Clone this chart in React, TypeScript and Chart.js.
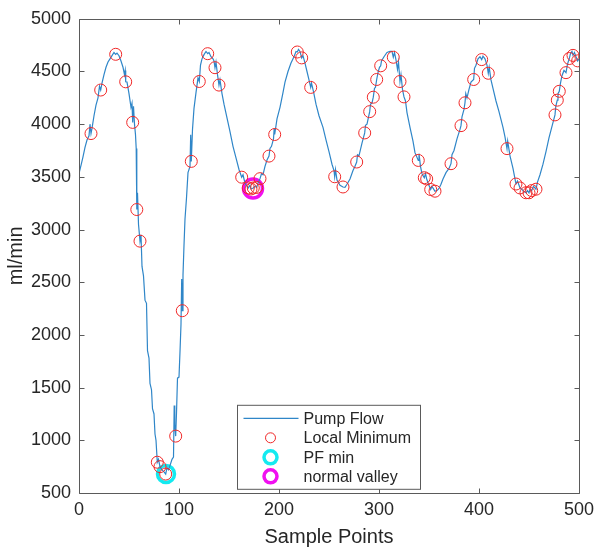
import React, { useEffect, useRef } from "react";
import { Chart, registerables } from "chart.js";

Chart.register(...registerables);

// Pump flow trace (sample index, ml/min)
const flowX = [
  0, 2, 4, 6, 8, 10, 11, 12, 13, 15, 17, 19, 20.5, 21.7, 23, 25, 27, 29, 31, 33, 35, 36.7, 38, 40, 42, 44,
  45.5, 46.2, 46.7, 48, 50, 52, 53, 53.7, 54.5, 55.5, 56.5, 57.2, 57.8, 58.5, 59.5, 61, 62, 63, 64.5, 66,
  67.5, 68.5, 70, 71, 72.5, 73.5, 75, 76, 77, 78.3, 79.5, 81, 83, 85, 86.7, 88, 89.5, 91, 93, 94.5, 95.2,
  95.8, 96.7, 97.5, 98.5, 100, 101, 102, 102.7, 103.3, 104, 105, 106, 107.5, 109, 111, 111.7, 112.3, 113.5,
  115, 117, 119, 120.3, 121.5, 123, 125, 127, 128.7, 130, 132, 134, 135, 136, 137, 138.5, 140, 141, 143,
  145, 148, 151, 154, 157, 160, 162.7, 164, 166, 168, 169.3, 171, 172, 174.3, 176, 177.7, 179, 181, 182.5,
  184, 186, 188, 190, 191, 192.5, 194.5, 195.2, 195.7, 198, 201, 204, 206, 209, 212, 215, 217, 218.3, 219.5,
  221, 222.7, 224, 226, 228, 230, 231.7, 232.5, 234.5, 237, 240, 244, 247, 250, 253, 255, 255.7, 256.5, 258,
  261, 264, 266, 268, 271, 274, 276, 277.7, 278.5, 280, 283, 285.7, 286.5, 288, 290.7, 291.5, 293, 294.3,
  295.5, 296.5, 297.7, 299, 300.5, 301.7, 302.5, 305, 308, 311, 313, 314.3, 315.5, 317, 318.5, 319.5, 321,
  322, 323.5, 325, 326.5, 328, 331, 334, 336, 339.3, 340, 341.5, 343, 345.3, 346.5, 347.7, 349.5, 351.7, 353,
  356, 358, 360, 362, 364, 367, 370, 372, 373, 375, 378, 381, 382, 383, 385, 386, 386.8, 388, 390, 392, 394.7,
  395.5, 397, 399, 401, 402.7, 404, 406, 408, 409.3, 410.2, 412, 414, 417, 420, 424, 426, 428, 428.7, 431,
  434, 436, 437, 438.5, 441, 443, 445, 447, 448.5, 450, 451, 452.7, 454.5, 457, 458.5, 461, 464, 467, 470,
  473, 476, 476.8, 478.3, 479, 480.3, 481.5, 483, 485, 487, 488.5, 490.3, 491.5, 493, 494, 495.5, 497, 498.7,
  500,
];
const flowY = [
  3530, 3610, 3690, 3780, 3850, 3890, 4000, 3911, 3960, 4080, 4180, 4250, 4360, 4324, 4390, 4470, 4540, 4590,
  4620, 4650, 4680, 4663, 4675, 4650, 4600, 4540, 4470, 4510, 4402, 4400, 4290, 4160, 4200, 4017, 4170, 4000,
  3900, 3770, 3190, 3350, 3050, 2890, 2950, 2650, 2560, 2330, 2300, 1850, 1780, 1540, 1480, 1300, 1250, 1060,
  1000, 792, 820, 750, 720, 700, 680, 740, 720, 760, 820, 840, 1330, 1150, 1040, 1260, 1590, 1600, 1840, 2100,
  2530, 2230, 2570, 2850, 3100, 3300, 3540, 3600, 3900, 3647, 3950, 4150, 4300, 4440, 4405, 4560, 4620, 4660,
  4690, 4669, 4680, 4640, 4620, 4600, 4536, 4590, 4470, 4371, 4420, 4290, 4190, 4060, 3930, 3790, 3680, 3570,
  3497, 3520, 3440, 3410, 3395, 3420, 3385, 3395, 3410, 3400, 3440, 3483, 3530, 3520, 3600, 3660, 3697, 3770,
  3790, 3860, 3960, 3902, 4050, 4160, 4300, 4400, 4500, 4580, 4640, 4690, 4685, 4710, 4690, 4629, 4650, 4580,
  4500, 4420, 4349, 4390, 4310, 4190, 4080, 3970, 3850, 3740, 3620, 3560, 3501, 3570, 3470, 3420, 3404, 3400,
  3430, 3480, 3560, 3600, 3641, 3710, 3700, 3820, 3917, 3990, 4000, 4119, 4190, 4200, 4256, 4340, 4350, 4424,
  4490, 4540, 4554, 4600, 4640, 4680, 4690, 4690, 4635, 4680, 4610, 4520, 4590, 4405, 4470, 4330, 4259, 4220,
  4110, 3970, 3840, 3730, 3656, 3720, 3600, 3530, 3492, 3530, 3480, 3430, 3380, 3410, 3364, 3370, 3390, 3430,
  3480, 3540, 3580, 3625, 3710, 3750, 3860, 3950, 3986, 4070, 4140, 4203, 4290, 4250, 4330, 4400, 4424, 4530,
  4560, 4620, 4640, 4613, 4645, 4620, 4560, 4483, 4540, 4420, 4340, 4220, 4120, 3970, 3880, 3768, 3840, 3700,
  3580, 3480, 3432, 3460, 3395, 3380, 3360, 3349, 3370, 3349, 3380, 3370, 3410, 3383, 3450, 3520, 3620, 3740,
  3870, 3980, 4088, 4170, 4228, 4290, 4312, 4390, 4460, 4510, 4489, 4570, 4623, 4670, 4690, 4653, 4680, 4640,
  4601, 4620,
];

// Detected local minima
const minX = [
  12, 21.7, 36.7, 46.7, 53.7, 57.8, 61, 78.3, 81, 86.7, 96.7, 103.3, 112.3, 120.3, 128.7, 136, 140, 162.7,
  169.3, 172, 174.3, 177.7, 181, 190, 195.7, 218.3, 222.7, 231.7, 255.7, 264, 277.7, 285.7, 290.7, 294.3,
  297.7, 301.7, 314.3, 321, 325, 339.3, 345.3, 347.7, 351.7, 356, 372, 382, 386, 394.7, 402.7, 409.3, 428,
  437, 441, 447, 450, 452.7, 457, 476, 478.3, 480.3, 487, 490.3, 494, 498.7,
];
const minY = [
  3911, 4324, 4663, 4402, 4017, 3190, 2890, 792, 750, 680, 1040, 2230, 3647, 4405, 4669, 4536, 4371, 3497,
  3395, 3385, 3395, 3400, 3483, 3697, 3902, 4685, 4629, 4349, 3501, 3404, 3641, 3917, 4119, 4256, 4424, 4554,
  4635, 4405, 4259, 3656, 3492, 3480, 3380, 3364, 3625, 3986, 4203, 4424, 4613, 4483, 3768, 3432, 3395, 3349,
  3349, 3370, 3383, 4088, 4228, 4312, 4489, 4623, 4653, 4601,
];

// Global pump-flow minimum and the reference (normal) valley
const pfMinX = [87];
const pfMinY = [680];
const valleyX = [174];
const valleyY = [3390];

const xTicks = [0, 100, 200, 300, 400, 500];
const yTicks = [500, 1000, 1500, 2000, 2500, 3000, 3500, 4000, 4500, 5000];

const seriesNames = ["Pump Flow", "Local Minimum", "PF min", "normal valley"];
const xTitle = "Sample Points";
const yTitle = "ml/min";

const FONT = "'Liberation Sans', Arial, Helvetica, sans-serif";
const TEXT = "#262626";
const AXIS = "#5a5a5a";
const BLUE = "#2f86c8";
const RED = "#f02828";
const CYAN = "#14eaf0";
const MAGENTA = "#f010f0";

const zip = (xs: number[], ys: number[]) => xs.map((x, i) => ({ x, y: ys[i] }));

// Box around the plot with inward tick marks on all four sides
const framePlugin = {
  id: "frame",
  afterDatasetsDraw(chart: any) {
    const { ctx, chartArea: a, scales } = chart;
    const L = Math.round(a.left) + 0.5;
    const R = Math.round(a.right) + 0.5;
    const T = Math.round(a.top) + 0.5;
    const B = Math.round(a.bottom) + 0.5;
    const len = 5;
    ctx.save();
    ctx.strokeStyle = AXIS;
    ctx.lineWidth = 1;
    ctx.beginPath();
    ctx.rect(L, T, R - L, B - T);
    for (const v of xTicks) {
      const px = Math.round(scales.x.getPixelForValue(v)) + 0.5;
      ctx.moveTo(px, B);
      ctx.lineTo(px, B - len);
      ctx.moveTo(px, T);
      ctx.lineTo(px, T + len);
    }
    for (const v of yTicks) {
      const py = Math.round(scales.y.getPixelForValue(v)) + 0.5;
      ctx.moveTo(L, py);
      ctx.lineTo(L + len, py);
      ctx.moveTo(R, py);
      ctx.lineTo(R - len, py);
    }
    ctx.stroke();
    ctx.restore();
  },
};

// Boxed legend inside the lower part of the axes
const legendPlugin = {
  id: "boxLegend",
  afterDraw(chart: any) {
    const { ctx, chartArea: a } = chart;
    const x0 = a.left + 158.5;
    const y0 = a.top + 386.5;
    const w = 183;
    const h = 84;
    ctx.save();
    ctx.fillStyle = "#ffffff";
    ctx.fillRect(x0, y0, w, h);
    ctx.strokeStyle = AXIS;
    ctx.lineWidth = 1;
    ctx.strokeRect(x0, y0, w, h);

    const rows = [y0 + 13, y0 + 32.5, y0 + 52, y0 + 71];
    const mx = x0 + 33;

    ctx.strokeStyle = BLUE;
    ctx.lineWidth = 1.3;
    ctx.beginPath();
    ctx.moveTo(x0 + 6, rows[0]);
    ctx.lineTo(x0 + 61, rows[0]);
    ctx.stroke();

    const ring = (cy: number, r: number, color: string, lw: number) => {
      ctx.strokeStyle = color;
      ctx.lineWidth = lw;
      ctx.beginPath();
      ctx.arc(mx, cy, r, 0, Math.PI * 2);
      ctx.stroke();
    };
    ring(rows[1], 5, RED, 1);
    ring(rows[2], 6.5, CYAN, 3.5);
    ring(rows[3], 6.5, MAGENTA, 3.5);

    ctx.fillStyle = TEXT;
    ctx.font = `16px ${FONT}`;
    ctx.textBaseline = "middle";
    ctx.textAlign = "left";
    seriesNames.forEach((name, i) => ctx.fillText(name, x0 + 66, rows[i] + 1));
    ctx.restore();
  },
};

export default function App() {
  const canvasRef = useRef<HTMLCanvasElement | null>(null);

  useEffect(() => {
    const canvas = canvasRef.current;
    if (!canvas) return;
    const chart = new Chart(canvas, {
      type: "scatter",
      data: {
        datasets: [
          {
            label: seriesNames[0],
            data: zip(flowX, flowY),
            showLine: true,
            borderColor: BLUE,
            borderWidth: 1.2,
            pointRadius: 0,
            tension: 0,
            order: 1,
          },
          {
            label: seriesNames[1],
            data: zip(minX, minY),
            pointStyle: "circle",
            pointRadius: 6,
            borderColor: RED,
            backgroundColor: "rgba(0,0,0,0)",
            pointBorderWidth: 1,
            order: 0,
          },
          {
            label: seriesNames[2],
            data: zip(pfMinX, pfMinY),
            pointRadius: 8.5,
            borderColor: CYAN,
            backgroundColor: "rgba(0,0,0,0)",
            pointBorderWidth: 3.5,
            order: 2,
          },
          {
            label: seriesNames[3],
            data: zip(valleyX, valleyY),
            pointRadius: 9.5,
            borderColor: MAGENTA,
            backgroundColor: "rgba(0,0,0,0)",
            pointBorderWidth: 3.5,
            order: 2,
          },
        ],
      },
      options: {
        animation: false,
        responsive: false,
        events: [],
        layout: { padding: { top: 10, right: 21, left: 0, bottom: 0 } },
        plugins: {
          legend: { display: false },
          tooltip: { enabled: false },
        },
        scales: {
          x: {
            type: "linear",
            min: 0,
            max: 500,
            afterBuildTicks: (s: any) => {
              s.ticks = xTicks.map((v) => ({ value: v }));
            },
            afterFit: (s: any) => {
              s.height = 56;
            },
            grid: { display: false, drawTicks: false },
            border: { display: false },
            ticks: {
              color: TEXT,
              font: { family: FONT, size: 18 },
              padding: 6,
              maxRotation: 0,
              callback: (v: any) => String(v),
            },
            title: {
              display: true,
              text: xTitle,
              color: TEXT,
              font: { family: FONT, size: 20 },
              padding: { top: 0, bottom: 0 },
            },
          },
          y: {
            type: "linear",
            min: 500,
            max: 5000,
            afterBuildTicks: (s: any) => {
              s.ticks = yTicks.map((v) => ({ value: v }));
            },
            afterFit: (s: any) => {
              s.width = 79;
            },
            grid: { display: false, drawTicks: false },
            border: { display: false },
            ticks: {
              color: TEXT,
              font: { family: FONT, size: 18 },
              padding: 8,
              callback: (v: any) => String(v),
            },
            title: {
              display: true,
              text: yTitle,
              color: TEXT,
              font: { family: FONT, size: 20 },
              padding: { top: 4, bottom: 0 },
            },
          },
        },
      },
      plugins: [framePlugin, legendPlugin],
    } as any);
    return () => chart.destroy();
  }, []);

  return (
    <div style={{ position: "absolute", left: 0, top: 0, width: 600, height: 549, background: "#fff" }}>
      <canvas ref={canvasRef} width={600} height={549} style={{ display: "block" }} />
    </div>
  );
}
